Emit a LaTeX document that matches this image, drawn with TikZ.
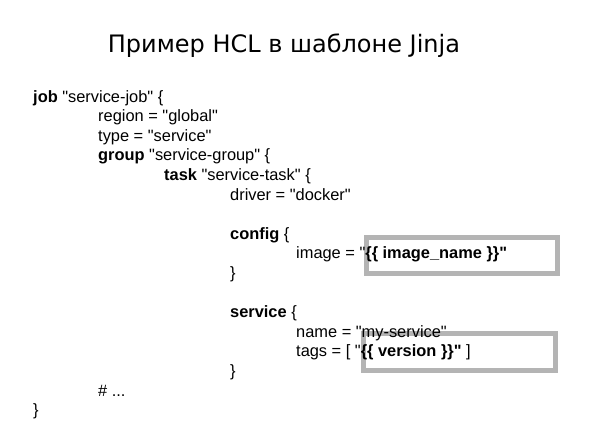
\documentclass[tikz,border=0pt]{standalone}
\usepackage{fontspec}
\setmainfont{Liberation Sans}[Ligatures=TeXOff]
\newfontfamily\titlefont{DejaVu Sans}
\definecolor{boxgray}{RGB}{180,180,180}
\begin{document}
\begin{tikzpicture}[x=1pt, y=-1pt,
    code/.style={anchor=base west, inner sep=0pt, font=\fontsize{16.4}{19}\selectfont},
    hlbox/.style={draw=boxgray, line width=5pt, inner sep=0pt, anchor=north west}]
        \useasboundingbox (0,0) rectangle (600,421);

        % Highlight boxes (behind the text)
        \node (imagebox) [hlbox, minimum width=191pt, minimum height=36pt] at (363.5,234.5) {};
        \node (versionbox) [hlbox, minimum width=192pt, minimum height=37pt] at (360.5,330.5) {};

        % Title
        \node (title) [anchor=base, font=\titlefont\fontsize{24}{28}\selectfont] at (284,52) {Пример HCL в шаблоне Jinja};

        % Code lines
        \node (job) [code] at (33,102) {\textbf{job} "service-job" \{};
        \node (region) [code] at (98,121.6) {region = "global"};
        \node (type) [code] at (98,141.2) {type = "service"};
        \node (group) [code] at (98,160.8) {\textbf{group} "service-group" \{};
        \node (task) [code] at (164,180.4) {\textbf{task} "service-task" \{};
        \node (driver) [code] at (230,200) {driver = "docker"};
        \node (config) [code] at (230,239.2) {\textbf{config} \{};
        \node (image) [code] at (296,258.8) {image = "\textbf{\{\{ image\_name \}\}"}};
        \node (configend) [code] at (230,278.4) {\}};
        \node (service) [code] at (230,317.6) {\textbf{service} \{};
        \node (name) [code] at (296,337.2) {name = "my-service"};
        \node (tags) [code] at (296,356.8) {tags = [ "\textbf{\{\{ version \}\}"} ]};
        \node (serviceend) [code] at (230,376.4) {\}};
        \node (more) [code] at (98,396) {\# ...};
        \node (jobend) [code] at (33,415.6) {\}};

\end{tikzpicture}
\end{document}
